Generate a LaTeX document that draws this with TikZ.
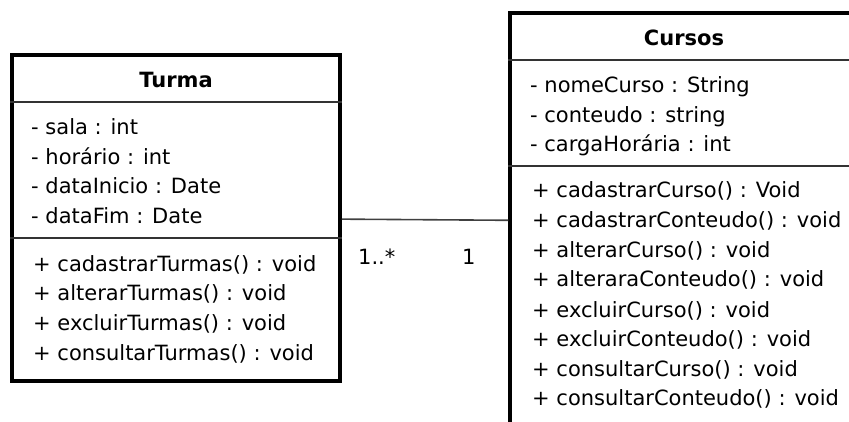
\documentclass[tikz,border=0pt]{standalone}
\usepackage{fontspec}
\setmainfont{DejaVu Sans}
\usepackage{tikz}

\tikzset{
  classbox/.style={rectangle, draw=black, line width=3.5pt, inner sep=0pt},
  member/.style={anchor=base west, inner sep=0pt, font=\fontsize{21}{25}\selectfont},
  classname/.style={anchor=base, inner sep=0pt, font=\fontsize{21}{25}\selectfont\bfseries},
  divider/.style={draw=black!80, line width=1.8pt},
  connector/.style={draw=black!75, line width=1.6pt},
}

\begin{document}
\begin{tikzpicture}[x=1pt, y=-1pt]
				\useasboundingbox (0,0) rectangle (849,422);
				\clip (0,0) rectangle (849,422);
				
				\node[classbox, minimum width=328pt, minimum height=326pt] (turma) at (176,218){};
				\node[classbox, minimum width=348pt, minimum height=417pt] (cursos) at (684,221.5){};
				
				\draw[divider] (turma.west |- 0,102) -- (turma.east |- 0,102);
				\draw[divider] (turma.west |- 0,238) -- (turma.east |- 0,238);
				\draw[divider] (cursos.west |- 0,60) -- (cursos.east |- 0,60);
				\draw[divider] (cursos.west |- 0,166) -- (cursos.east |- 0,166);
				
				\node[classname] (t0) at (176,88){Turma};
				\node[member] (ta1) at (31,135){- sala : int};
				\node[member] (ta2) at (31,164.5){- horário : int};
				\node[member] (ta3) at (31,194){- dataInicio : Date};
				\node[member] (ta4) at (31,223.5){- dataFim : Date};
				\node[member] (tm1) at (33,271.5){+ cadastrarTurmas() : void};
				\node[member] (tm2) at (33,301){+ alterarTurmas() : void};
				\node[member] (tm3) at (33,330.5){+ excluirTurmas() : void};
				\node[member] (tm4) at (33,360){+ consultarTurmas() : void};
				
				\node[classname] (c0) at (684,46){Cursos};
				\node[member] (ca1) at (530,93){- nomeCurso : String};
				\node[member] (ca2) at (530,122.5){- conteudo : string};
				\node[member] (ca3) at (530,152){- cargaHorária : int};
				\node[member] (cm1) at (532,198){+ cadastrarCurso() : Void};
				\node[member] (cm2) at (532,228){+ cadastrarConteudo() : void};
				\node[member] (cm3) at (532,257.5){+ alterarCurso() : void};
				\node[member] (cm4) at (532,287){+ alteraraConteudo() : void};
				\node[member] (cm5) at (532,317){+ excluirCurso() : void};
				\node[member] (cm6) at (532,346.5){+ excluirConteudo() : void};
				\node[member] (cm7) at (532,376){+ consultarCurso() : void};
				\node[member] (cm8) at (532,405.5){+ consultarConteudo() : void};
				
				\node[member] (m1) at (358,265){1..*};
				\node[member] (m2) at (462,265){1};
				
				\path[connector] (turma) edge (cursos);
\end{tikzpicture}
\end{document}
